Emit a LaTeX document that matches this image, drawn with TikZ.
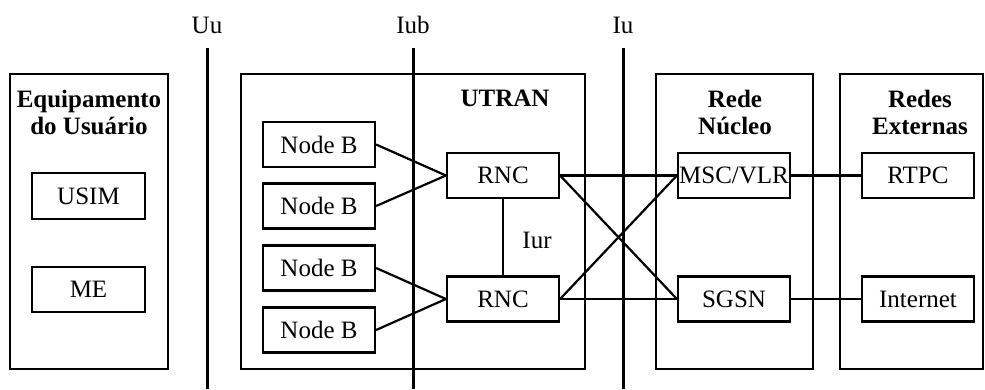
\documentclass[tikz,border=0pt]{standalone}
\usepackage{fontspec}
\setmainfont{Liberation Serif}
\begin{document}
\begin{tikzpicture}[x=1pt,y=-1pt,
  every node/.style={font=\fontsize{25}{30}\selectfont, inner sep=0pt},
  bigbox/.style={draw, line width=2.2pt},
  smallbox/.style={draw, line width=2.2pt, minimum width=112pt, minimum height=45pt},
  title/.style={font=\fontsize{25}{30}\selectfont\bfseries, align=center},
  iface/.style={line width=3pt},
  link/.style={line width=2.2pt}]
\useasboundingbox (0,0) rectangle (985,389);
% large boxes
\node[bigbox, minimum width=158pt, minimum height=295pt] (ue) at (89,221.5) {};
\node[bigbox, minimum width=344pt, minimum height=295pt] (utran) at (413,221.5) {};
\node[bigbox, minimum width=157pt, minimum height=295pt] (cn) at (734.5,221.5) {};
\node[bigbox, minimum width=143pt, minimum height=295pt] (ext) at (911.5,221.5) {};
% titles
\node[title] (uet) at (89,112) {Equipamento\\[-3pt]do Usuário};
\node[title] (utrant) at (505,98) {UTRAN};
\node[title] (cnt) at (735,112) {Rede\\[-3pt]Núcleo};
\node[title] (extt) at (920,112) {Redes\\[-3pt]Externas};
% UE
\node[smallbox, minimum width=113pt, minimum height=46pt] (usim) at (88.5,196) {USIM};
\node[smallbox, minimum width=113pt] (me) at (88.5,289.5) {ME};
% Node B
\node[smallbox] (nb1) at (319,144.5) {Node B};
\node[smallbox] (nb2) at (319,206) {Node B};
\node[smallbox] (nb3) at (319,268) {Node B};
\node[smallbox] (nb4) at (319,330) {Node B};
% RNC
\node[smallbox] (rnc1) at (503,175.5) {RNC};
\node[smallbox] (rnc2) at (503,299) {RNC};
\node (iur) at (537,240) {Iur};
% core
\node[smallbox] (msc) at (734,175.5) {MSC/VLR};
\node[smallbox] (sgsn) at (734,299) {SGSN};
% external
\node[smallbox] (rtpc) at (918,175.5) {RTPC};
\node[smallbox] (inet) at (918,299) {Internet};
% interfaces
\coordinate (uutop) at (207,48); \coordinate (uubot) at (207,389);
\coordinate (iubtop) at (413,48); \coordinate (iubbot) at (413,389);
\coordinate (iutop) at (623,48); \coordinate (iubot) at (623,389);
\node (uul) at (207,25) {Uu};
\node (iubl) at (413,25) {Iub};
\node (iul) at (623,25) {Iu};
\draw[iface] (uutop) -- (uubot);
\draw[iface] (iubtop) -- (iubbot);
\draw[iface] (iutop) -- (iubot);
% links
\draw[link] (nb1.east) -- (rnc1.west);
\draw[link] (nb2.east) -- (rnc1.west);
\draw[link] (nb3.east) -- (rnc2.west);
\draw[link] (nb4.east) -- (rnc2.west);
\draw[link] (rnc1.south) -- (rnc2.north);
\draw[link] (rnc1.east) -- (msc.west);
\draw[link] (rnc1.east) -- (sgsn.west);
\draw[link] (rnc2.east) -- (msc.west);
\draw[link] (rnc2.east) -- (sgsn.west);
\draw[link] (msc.east) -- (rtpc.west);
\draw[link] (sgsn.east) -- (inet.west);
\end{tikzpicture}
\end{document}
